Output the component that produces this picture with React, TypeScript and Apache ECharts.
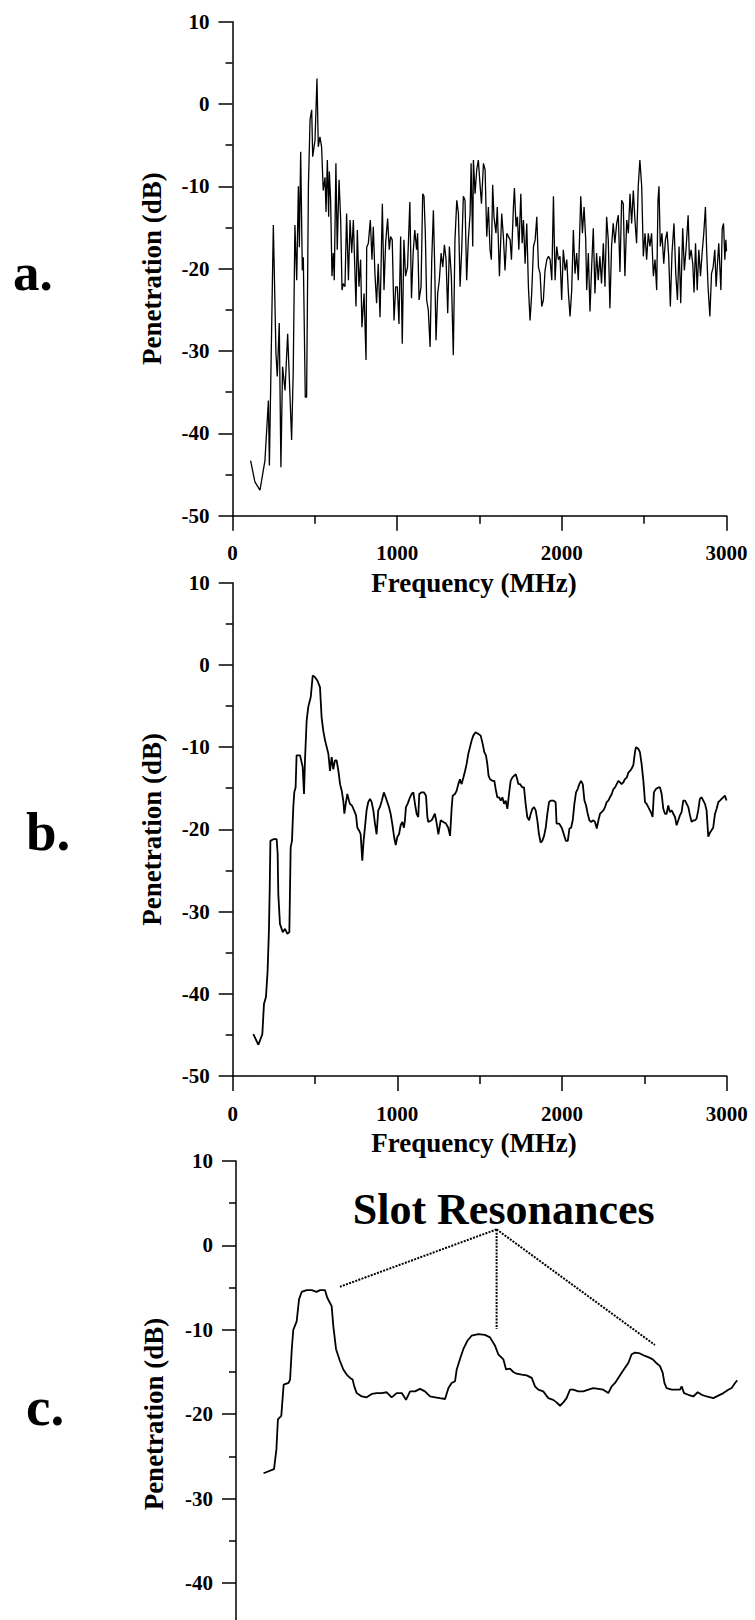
import React, { useEffect, useRef } from "react";
import * as echarts from "echarts";

// ---------- data ----------
const freqA = [
  110, 136, 167, 197, 218, 224, 248, 264, 272, 284, 294, 304, 319, 335, 359, 369, 379, 390, 400, 406,
  414, 424, 430, 442, 450, 461, 471, 481, 487, 501, 513, 521, 531, 541, 551, 562, 568, 576, 584, 588,
  596, 604, 612, 618, 628, 636, 647, 657, 665, 673, 683, 693, 704, 714, 724, 734, 740, 750, 758, 768,
  778, 786, 799, 811, 815, 825, 837, 847, 855, 865, 875, 885, 896, 910, 920, 930, 942, 952, 960, 970,
  981, 991, 1001, 1011, 1021, 1031, 1041, 1051, 1063, 1077, 1087, 1097, 1107, 1118, 1124, 1133, 1145, 1155, 1163, 1171,
  1179, 1189, 1200, 1210, 1220, 1228, 1236, 1246, 1256, 1267, 1277, 1287, 1297, 1307, 1317, 1329, 1341, 1351, 1362, 1372,
  1382, 1392, 1402, 1412, 1422, 1432, 1443, 1449, 1459, 1463, 1473, 1483, 1493, 1504, 1512, 1524, 1534, 1544, 1554, 1564,
  1572, 1580, 1588, 1600, 1608, 1621, 1635, 1645, 1655, 1666, 1676, 1686, 1694, 1706, 1712, 1722, 1730, 1739, 1751, 1759,
  1767, 1777, 1787, 1797, 1807, 1817, 1828, 1838, 1848, 1858, 1868, 1878, 1888, 1898, 1909, 1919, 1929, 1939, 1949, 1959,
  1969, 1979, 1989, 1999, 2009, 2020, 2030, 2040, 2050, 2060, 2070, 2080, 2090, 2100, 2115, 2125, 2135, 2145, 2151, 2161,
  2171, 2181, 2191, 2201, 2211, 2221, 2231, 2241, 2252, 2262, 2272, 2282, 2292, 2302, 2312, 2322, 2333, 2343, 2353, 2363,
  2373, 2383, 2394, 2404, 2414, 2424, 2434, 2444, 2454, 2464, 2474, 2485, 2495, 2505, 2515, 2525, 2535, 2545, 2556, 2566,
  2576, 2584, 2590, 2598, 2608, 2619, 2629, 2639, 2649, 2659, 2669, 2681, 2692, 2702, 2712, 2722, 2734, 2744, 2754, 2767,
  2775, 2785, 2795, 2803, 2812, 2822, 2832, 2842, 2852, 2862, 2872, 2880, 2888, 2899, 2909, 2919, 2929, 2937, 2945, 2953,
  2966, 2974, 2982, 2990, 2996, 3000,
];
const valA = [
  -43.3, -45.9, -46.9, -43.3, -36.0, -43.9, -14.7, -30.3, -33.1, -26.6, -44.1, -31.9, -34.8, -27.9, -40.8, -32.3, -14.7, -21.4, -10.0, -17.4,
  -5.8, -20.2, -18.6, -35.6, -35.6, -10.0, -1.9, -0.7, -6.4, -4.4, 3.1, -5.2, -4.0, -5.2, -10.5, -8.9, -13.1, -6.8, -13.7, -8.2,
  -11.7, -20.9, -18.1, -21.4, -7.2, -17.7, -9.2, -14.1, -22.6, -21.8, -22.2, -13.3, -21.4, -14.1, -18.1, -14.1, -18.1, -24.6, -15.3, -22.2,
  -18.9, -27.1, -23.0, -31.1, -17.4, -16.9, -14.1, -18.9, -14.9, -20.6, -24.2, -19.4, -25.9, -12.1, -22.6, -16.9, -13.9, -17.7, -16.1, -16.5,
  -26.3, -22.2, -22.2, -26.7, -16.1, -29.1, -16.5, -20.9, -19.8, -11.9, -23.6, -18.1, -15.3, -17.7, -15.7, -23.8, -22.2, -10.9, -11.2, -15.7,
  -23.8, -25.0, -29.5, -18.9, -12.9, -19.8, -28.7, -23.0, -21.4, -18.1, -19.8, -17.1, -18.9, -25.4, -17.3, -20.9, -30.5, -16.5, -11.7, -13.3,
  -22.2, -17.7, -11.2, -11.7, -21.4, -16.5, -13.3, -7.2, -17.3, -6.8, -10.9, -8.0, -6.8, -10.0, -12.1, -7.2, -8.0, -16.1, -12.5, -17.7,
  -18.9, -9.8, -13.7, -15.7, -12.5, -20.9, -13.3, -16.1, -20.2, -15.7, -16.1, -16.5, -18.9, -12.5, -10.2, -14.9, -13.7, -17.7, -10.9, -16.9,
  -14.1, -19.4, -14.5, -22.2, -26.3, -23.0, -17.3, -16.5, -13.7, -19.8, -20.6, -24.6, -23.8, -20.2, -18.9, -18.5, -18.9, -21.4, -11.2, -21.4,
  -17.3, -18.9, -18.5, -23.8, -17.7, -20.2, -18.9, -23.0, -25.8, -22.6, -15.3, -20.6, -18.1, -21.4, -11.2, -15.7, -12.5, -16.5, -22.6, -18.1,
  -25.2, -19.8, -15.1, -23.0, -18.1, -21.4, -18.5, -21.8, -16.9, -22.2, -13.7, -16.5, -24.8, -17.3, -14.5, -16.9, -14.5, -13.5, -20.4, -11.7,
  -12.1, -20.9, -14.1, -15.7, -10.9, -14.5, -10.5, -14.1, -16.9, -10.0, -6.8, -10.0, -18.5, -15.7, -18.9, -15.7, -17.3, -15.7, -20.9, -18.9,
  -22.6, -11.7, -10.0, -17.3, -15.7, -19.4, -16.5, -15.5, -18.5, -24.6, -18.1, -14.5, -20.6, -23.8, -17.3, -24.2, -15.1, -20.2, -17.7, -13.5,
  -18.9, -17.7, -19.4, -22.9, -16.9, -22.6, -17.7, -20.9, -18.1, -15.7, -12.5, -18.1, -22.2, -25.8, -20.6, -19.8, -17.7, -22.2, -19.4, -16.9,
  -22.6, -15.1, -14.5, -18.9, -16.5, -17.9,
];

const freqB = [
  125, 156, 180, 190, 202, 212, 220, 225, 229, 247, 267, 273, 277, 287, 304, 318, 332, 344, 352, 360,
  368, 374, 382, 388, 409, 425, 433, 439, 449, 459, 474, 486, 500, 514, 530, 540, 550, 561, 571, 581,
  591, 601, 611, 621, 631, 642, 652, 662, 672, 678, 688, 696, 706, 712, 724, 737, 749, 757, 769, 777,
  787, 795, 803, 813, 823, 834, 844, 854, 864, 874, 884, 894, 906, 918, 929, 939, 949, 959, 969, 980,
  990, 1000, 1010, 1020, 1030, 1040, 1046, 1052, 1062, 1077, 1087, 1097, 1107, 1117, 1127, 1133, 1147, 1161, 1174, 1182,
  1188, 1208, 1228, 1239, 1249, 1263, 1279, 1295, 1309, 1320, 1330, 1336, 1350, 1360, 1370, 1380, 1390, 1401, 1411, 1421,
  1431, 1441, 1451, 1461, 1475, 1492, 1506, 1518, 1528, 1538, 1546, 1554, 1563, 1577, 1589, 1597, 1607, 1617, 1628, 1638,
  1648, 1658, 1668, 1678, 1688, 1698, 1708, 1719, 1725, 1735, 1745, 1759, 1769, 1779, 1789, 1800, 1810, 1820, 1830, 1840,
  1850, 1860, 1870, 1880, 1891, 1901, 1911, 1921, 1931, 1947, 1961, 1967, 1982, 1998, 2008, 2023, 2035, 2045, 2055, 2065,
  2075, 2085, 2095, 2105, 2115, 2126, 2136, 2146, 2156, 2166, 2176, 2190, 2200, 2211, 2221, 2231, 2241, 2251, 2261, 2271,
  2281, 2291, 2302, 2312, 2322, 2332, 2342, 2352, 2362, 2372, 2382, 2393, 2403, 2413, 2423, 2433, 2443, 2449, 2463, 2473,
  2483, 2494, 2504, 2514, 2524, 2534, 2544, 2550, 2558, 2570, 2585, 2595, 2605, 2615, 2625, 2635, 2645, 2655, 2666, 2676,
  2686, 2696, 2706, 2716, 2726, 2736, 2747, 2757, 2767, 2777, 2787, 2797, 2807, 2817, 2827, 2837, 2848, 2858, 2868, 2878,
  2888, 2898, 2908, 2918, 2929, 2939, 2949, 2959, 2969, 2979, 2989, 2999,
];
const valB = [
  -44.9, -46.2, -44.9, -41.2, -40.4, -37.2, -32.3, -27.0, -21.4, -21.2, -21.2, -23.0, -27.9, -31.5, -32.5, -32.1, -32.7, -32.5, -22.2, -21.4,
  -17.3, -15.5, -14.9, -11.0, -11.0, -12.4, -15.7, -11.6, -6.8, -5.1, -3.9, -1.3, -1.5, -1.9, -2.7, -6.4, -8.0, -9.2, -10.0, -10.8,
  -12.9, -11.2, -12.7, -11.6, -11.6, -12.9, -14.5, -15.3, -16.6, -18.1, -16.7, -15.7, -16.5, -16.9, -17.1, -17.7, -18.3, -19.8, -20.2, -20.6,
  -23.8, -21.4, -19.8, -17.7, -16.7, -16.3, -16.7, -17.7, -19.3, -20.6, -17.7, -17.3, -16.5, -15.5, -16.1, -16.7, -17.3, -18.1, -19.3, -20.9,
  -21.9, -20.9, -20.6, -19.5, -19.1, -19.8, -18.9, -17.3, -16.9, -16.1, -15.7, -15.5, -16.9, -18.1, -18.5, -15.7, -15.5, -15.5, -15.9, -18.5,
  -19.1, -18.9, -18.1, -19.3, -20.6, -18.9, -19.1, -19.3, -19.8, -20.8, -17.3, -15.9, -15.7, -15.3, -14.5, -13.9, -14.5, -13.7, -12.9, -12.0,
  -10.8, -10.0, -9.2, -8.6, -8.2, -8.4, -8.6, -9.6, -10.6, -11.0, -12.0, -13.5, -13.9, -14.1, -14.1, -15.1, -16.1, -16.1, -16.5, -16.1,
  -16.9, -16.5, -17.5, -15.7, -14.1, -13.7, -13.5, -13.3, -13.7, -14.5, -14.5, -14.9, -14.9, -16.9, -18.5, -18.9, -18.1, -17.5, -17.3, -17.7,
  -18.9, -20.6, -21.6, -21.4, -20.8, -19.8, -18.1, -16.7, -16.5, -16.5, -16.7, -19.3, -19.3, -19.8, -20.4, -21.4, -21.4, -19.9, -19.8, -18.9,
  -16.9, -15.5, -15.1, -14.5, -14.1, -14.5, -16.5, -17.1, -18.1, -18.9, -19.1, -18.9, -19.1, -19.9, -18.9, -18.1, -17.9, -17.7, -17.3, -16.7,
  -16.5, -16.1, -15.7, -15.1, -14.9, -14.5, -14.1, -14.3, -14.5, -14.3, -13.9, -13.7, -13.1, -12.9, -12.6, -12.2, -10.6, -10.0, -10.2, -10.6,
  -12.0, -14.1, -16.7, -16.9, -17.3, -17.7, -18.1, -18.5, -15.5, -15.1, -14.9, -14.9, -15.7, -17.5, -18.1, -18.1, -17.1, -17.9, -17.7, -18.1,
  -18.5, -19.5, -18.9, -18.3, -17.9, -16.5, -16.5, -16.9, -17.3, -18.3, -19.1, -18.9, -18.9, -18.7, -17.7, -16.3, -16.1, -16.5, -16.9, -17.7,
  -20.9, -20.4, -20.1, -19.8, -18.1, -17.5, -16.7, -16.5, -16.3, -16.1, -15.9, -16.5,
];

const freqC = [
  163, 225, 239, 248, 268, 282, 311, 320, 330, 339, 359, 373, 389, 418, 448, 477, 497, 527, 540, 566,
  576, 592, 615, 635, 655, 675, 690, 700, 714, 744, 773, 803, 833, 862, 892, 921, 951, 981, 1006, 1030,
  1059, 1089, 1118, 1148, 1178, 1207, 1237, 1257, 1276, 1296, 1306, 1325, 1345, 1369, 1394, 1434, 1473, 1503, 1533, 1552,
  1582, 1598, 1621, 1641, 1661, 1690, 1720, 1750, 1769, 1789, 1818, 1848, 1877, 1897, 1917, 1937, 1956, 1976, 1996, 2025,
  2055, 2085, 2114, 2144, 2173, 2203, 2223, 2243, 2262, 2282, 2302, 2322, 2341, 2361, 2390, 2420, 2446, 2466, 2485, 2509,
  2525, 2535, 2548, 2578, 2607, 2627, 2637, 2651, 2676, 2706, 2732, 2756, 2785, 2824, 2854, 2884, 2913, 2933, 2953, 2966,
];
const valC = [
  -27.0, -26.5, -24.2, -20.6, -20.2, -16.5, -16.3, -15.9, -12.3, -10.0, -9.0, -6.4, -5.5, -5.3, -5.3, -5.5, -5.3, -5.3, -6.2, -7.2,
  -9.6, -12.3, -13.7, -14.7, -15.3, -15.7, -15.9, -16.7, -17.5, -17.9, -18.0, -17.6, -17.5, -17.5, -17.4, -18.0, -17.5, -17.5, -18.3, -17.3,
  -17.3, -17.0, -17.3, -17.9, -18.0, -18.1, -18.2, -16.9, -16.3, -16.1, -14.7, -13.5, -12.3, -11.3, -10.7, -10.5, -10.6, -10.9, -11.9, -12.9,
  -13.5, -14.7, -14.6, -15.0, -15.2, -15.3, -15.4, -15.7, -16.7, -17.1, -17.3, -18.1, -18.3, -18.6, -19.0, -18.6, -18.1, -17.1, -17.1, -17.3,
  -17.3, -17.1, -16.9, -17.0, -17.1, -17.5, -16.7, -16.3, -15.7, -15.1, -14.5, -13.9, -12.9, -12.7, -12.8, -13.1, -13.3, -13.5, -13.9, -14.3,
  -15.1, -16.3, -16.9, -17.1, -17.1, -17.1, -16.7, -17.5, -17.7, -17.9, -17.4, -17.7, -17.9, -18.1, -17.8, -17.5, -17.1, -16.9, -16.3, -16.0,
];

// annotation leader lines in panel c: apex under the caption, and the three resonance ends
const slotApex = [1542, 1.9];
const slotEnds = [
  [615, -4.9],
  [1542, -9.9],
  [2479, -11.8],
];

const yMin = -50;
const yMax = 10;
const xMin = 0;
const xMax = 3000;

const panelLabels = ["a.", "b.", "c."];
const yTitle = "Penetration (dB)";
const xTitle = "Frequency (MHz)";
const caption = "Slot Resonances";

// ---------- layout ----------
const FONT = "Liberation Serif";
const grids = [
  { left: 232.5, top: 21.7, width: 494, height: 494 },
  { left: 232.7, top: 582.7, width: 494, height: 493.3 },
  { left: 236, top: 1161, width: 507, height: 506.4 },
];
// panel c is cut off by the page bottom: its x labels and lowest y label are not visible
const showXLabels = [true, true, false];
const lowestVisibleY = [-50, -50, -40];

function makeX(i: number) {
  return {
    type: "value",
    gridIndex: i,
    min: xMin,
    max: xMax,
    interval: 1000,
    axisLine: { show: true, onZero: false, lineStyle: { color: "#000", width: 1.5 } },
    axisTick: { show: true, length: 15, lineStyle: { color: "#000", width: 1.5 } },
    minorTick: { show: true, splitNumber: 2, length: 8, lineStyle: { color: "#000", width: 1.5 } },
    splitLine: { show: false },
    minorSplitLine: { show: false },
    axisLabel: {
      show: showXLabels[i],
      margin: 27,
      fontFamily: FONT,
      fontWeight: "bold",
      fontSize: 21,
      color: "#000",
      formatter: (v: number) => String(v),
    },
  };
}

function makeY(i: number) {
  return {
    type: "value",
    gridIndex: i,
    min: yMin,
    max: yMax,
    interval: 10,
    axisLine: { show: true, onZero: false, lineStyle: { color: "#000", width: 1.5 } },
    axisTick: { show: true, length: 14, lineStyle: { color: "#000", width: 1.5 } },
    minorTick: { show: true, splitNumber: 2, length: 7, lineStyle: { color: "#000", width: 1.5 } },
    splitLine: { show: false },
    minorSplitLine: { show: false },
    axisLabel: {
      show: true,
      margin: 23,
      fontFamily: FONT,
      fontWeight: "bold",
      fontSize: 21,
      color: "#000",
      formatter: (v: number) => (v < lowestVisibleY[i] ? "" : String(v)),
    },
  };
}

function lineSeries(i: number, fx: number[], vy: number[], width: number) {
  return {
    type: "line",
    xAxisIndex: i,
    yAxisIndex: i,
    data: fx.map((f, k) => [f, vy[k]]),
    symbol: "none",
    showSymbol: false,
    smooth: false,
    silent: true,
    lineStyle: { color: "#000", width },
  };
}

function textEl(text: string, x: number, y: number, fontSize: number, align: string, rotation = 0) {
  return {
    type: "text",
    x,
    y,
    rotation,
    silent: true,
    style: {
      text,
      fontFamily: FONT,
      fontWeight: "bold",
      fontSize,
      fill: "#000",
      align,
      verticalAlign: "middle",
    },
  };
}

export default function App() {
  const ref = useRef<HTMLDivElement>(null);

  useEffect(() => {
    if (!ref.current) return;
    const chart = echarts.init(ref.current, undefined, { renderer: "svg" });

    const leaderSeries = slotEnds.map((end) => ({
      type: "line",
      xAxisIndex: 2,
      yAxisIndex: 2,
      data: [slotApex, end],
      symbol: "none",
      showSymbol: false,
      silent: true,
      lineStyle: { color: "#000", width: 2, type: [2, 1.3] },
    }));

    chart.setOption({
      animation: false,
      backgroundColor: "#fff",
      grid: grids.map((g) => ({ ...g, containLabel: false, outerBoundsMode: "none" })),
      xAxis: [makeX(0), makeX(1), makeX(2)],
      yAxis: [makeY(0), makeY(1), makeY(2)],
      series: [
        lineSeries(0, freqA, valA, 1.3),
        lineSeries(1, freqB, valB, 1.8),
        lineSeries(2, freqC, valC, 1.8),
        ...leaderSeries,
      ],
      graphic: [
        textEl(panelLabels[0], 13, 272, 53, "left"),
        textEl(panelLabels[1], 26, 831.4, 55, "left"),
        textEl(panelLabels[2], 26, 1406.4, 55, "left"),
        textEl(yTitle, 152, 268.7, 27, "center", Math.PI / 2),
        textEl(yTitle, 152, 829.3, 27, "center", Math.PI / 2),
        textEl(yTitle, 154, 1414, 27, "center", Math.PI / 2),
        textEl(xTitle, 474, 582.5, 27, "center"),
        textEl(xTitle, 474, 1142.5, 27, "center"),
        textEl(caption, 503.7, 1209, 44, "center"),
      ],
    });

    return () => {
      chart.dispose();
    };
  }, []);

  return (
    <div
      ref={ref}
      style={{ position: "absolute", left: 0, top: 0, width: 755, height: 1620, background: "#fff" }}
    />
  );
}
